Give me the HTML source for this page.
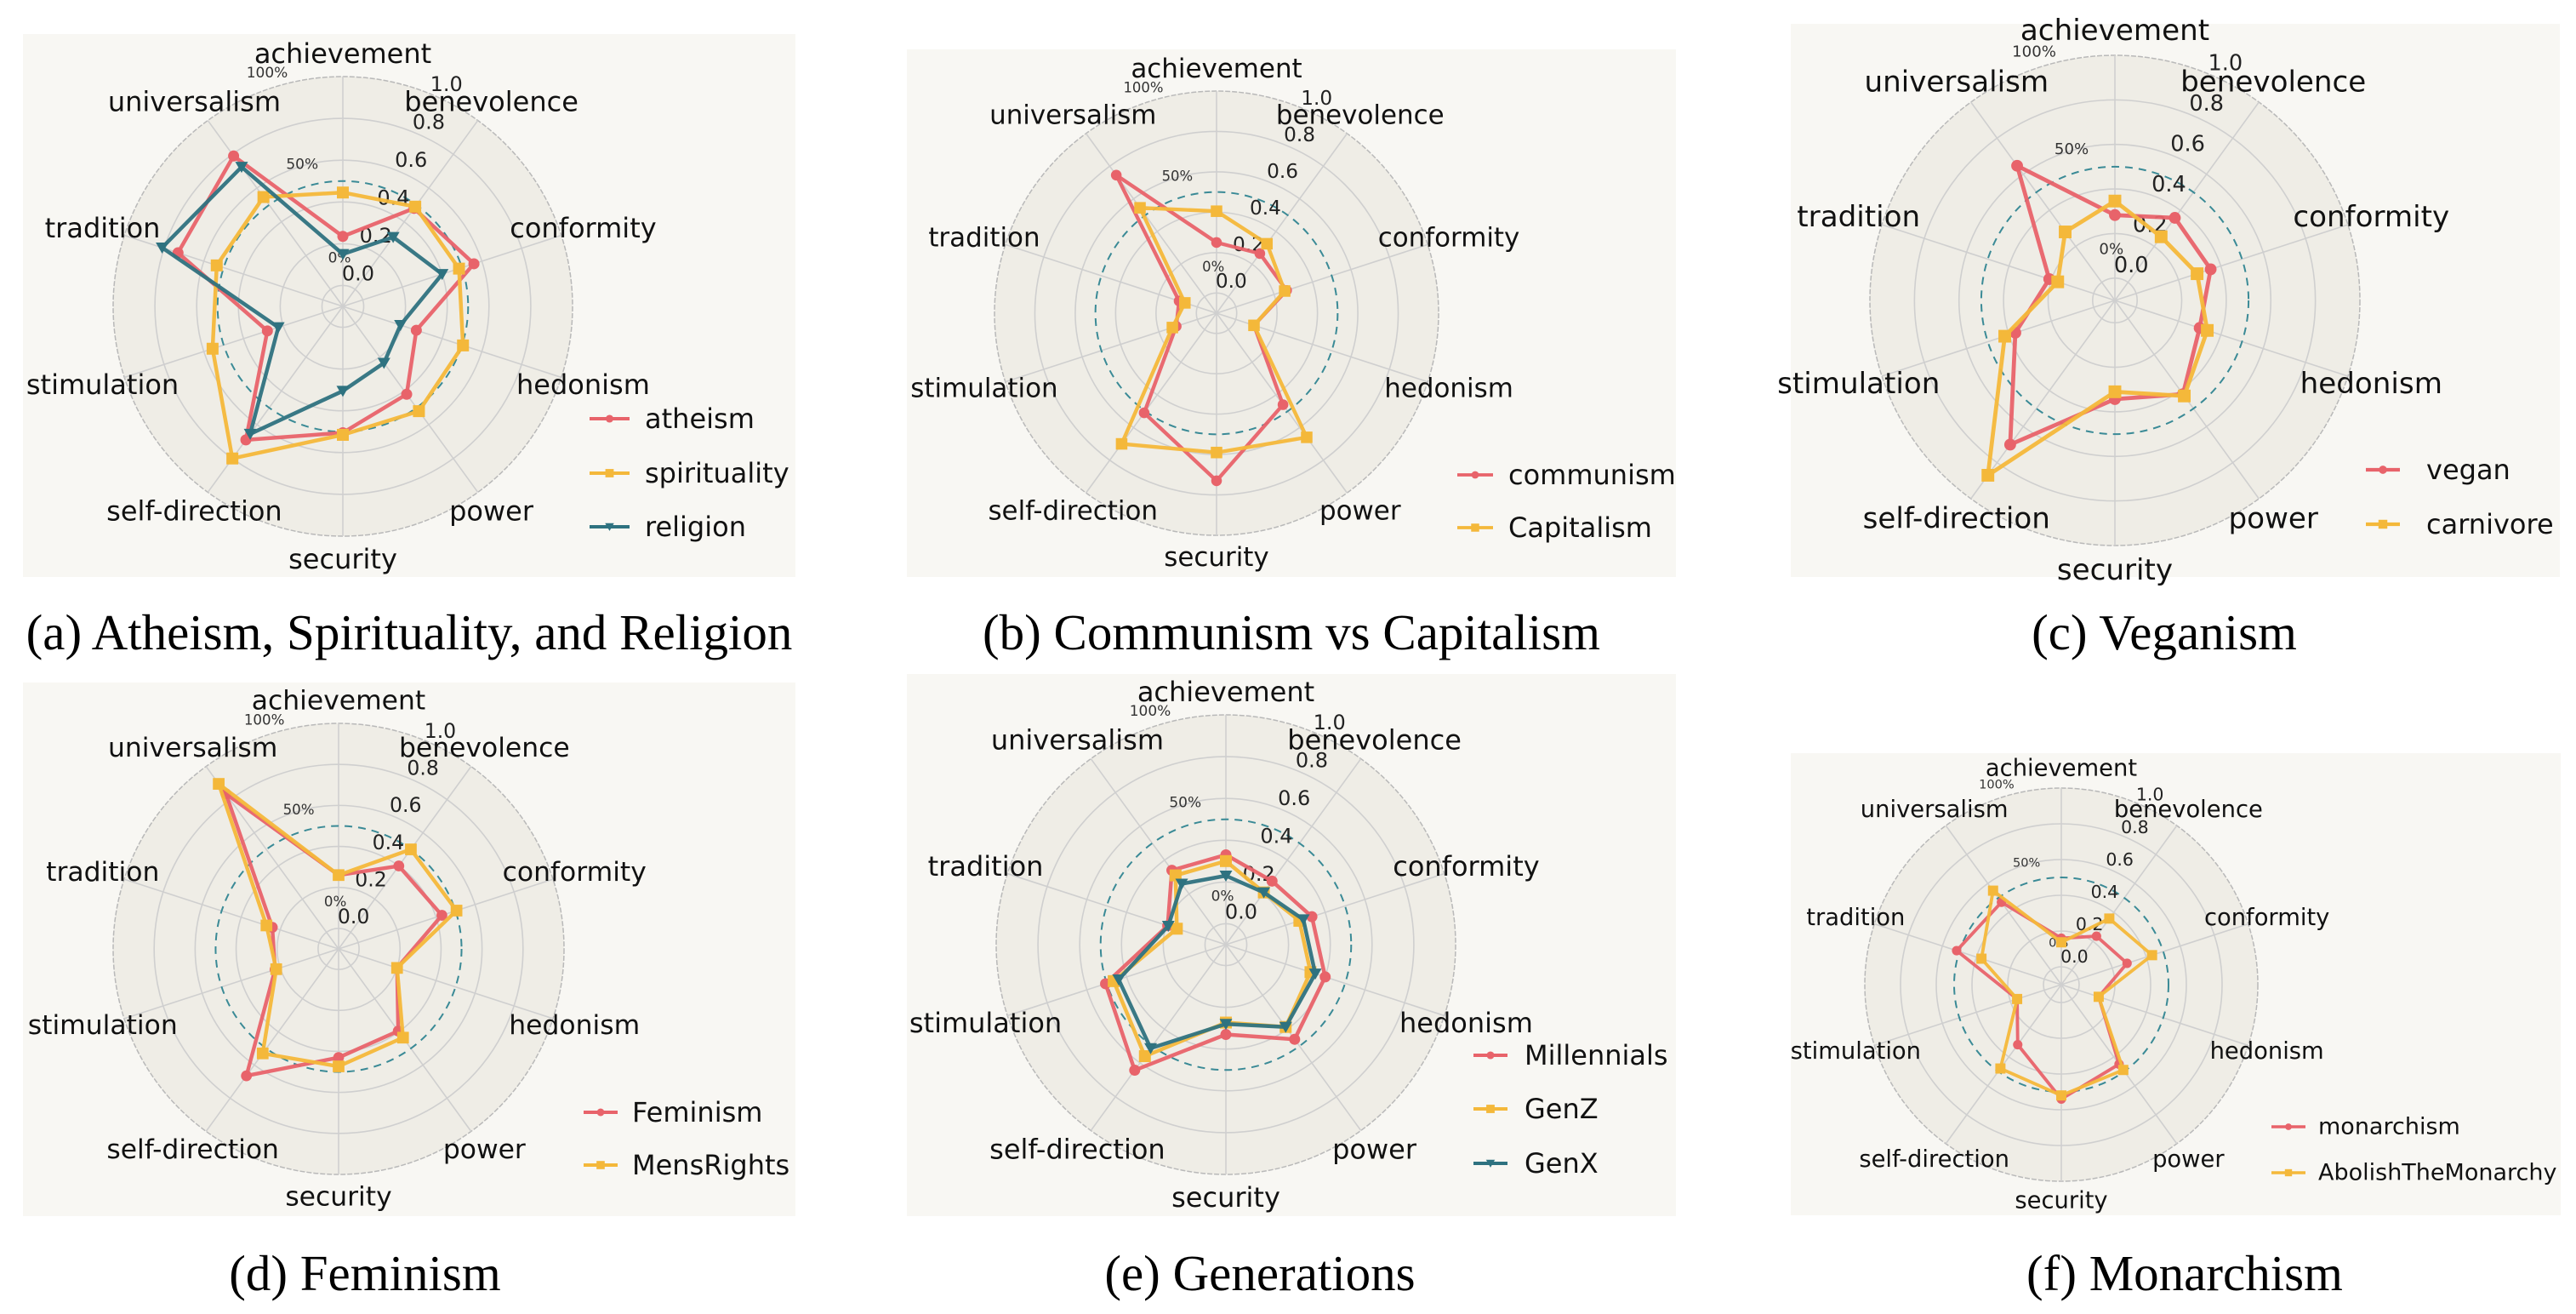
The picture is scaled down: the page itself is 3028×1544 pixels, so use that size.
<!DOCTYPE html>
<html>
<head>
<meta charset="utf-8">
<style>
  html,body{margin:0;padding:0;background:#ffffff;}
  body{width:3028px;height:1544px;overflow:hidden;position:relative;}
  svg{position:absolute;left:0;top:0;}
  .cap{font-family:"Liberation Serif",serif;font-size:59px;fill:#000;}
</style>
</head>
<body>
<svg id="fig" width="3028" height="1544" viewBox="0 0 3028 1544" xmlns="http://www.w3.org/2000/svg">
  <rect x="27" y="40" width="908" height="638" fill="#f8f7f3"/>
  <rect x="1066" y="58" width="904" height="620" fill="#f8f7f3"/>
  <rect x="2105" y="28" width="904" height="650" fill="#f8f7f3"/>
  <rect x="27" y="802" width="908" height="627" fill="#f8f7f3"/>
  <rect x="1066" y="792" width="904" height="637" fill="#f8f7f3"/>
  <rect x="2105" y="885" width="905" height="543" fill="#f8f7f3"/>
  <text class="cap" x="481" y="763" text-anchor="middle">(a) Atheism, Spirituality, and Religion</text>
  <text class="cap" x="1518" y="763" text-anchor="middle">(b) Communism vs Capitalism</text>
  <text class="cap" x="2544" y="763" text-anchor="middle">(c) Veganism</text>
  <text class="cap" x="429" y="1516" text-anchor="middle">(d) Feminism</text>
  <text class="cap" x="1481" y="1516" text-anchor="middle">(e) Generations</text>
  <text class="cap" x="2568" y="1516" text-anchor="middle">(f) Monarchism</text>
</svg>
<script>
const categories = ["achievement","benevolence","conformity","hedonism","power","security","self-direction","stimulation","tradition","universalism"];
const rTicks = [0, 0.2, 0.4, 0.6, 0.8, 1.0];
const rTickLabels = ["0.0","0.2","0.4","0.6","0.8","1.0"];
const pctTicks = [0, 0.5, 1.0];
const pctLabels = ["0%","50%","100%"];

const atheism      = [0.235,0.48,0.56,0.27,0.42,0.505,0.69,0.28,0.73,0.79];
const spirituality = [0.445,0.49,0.485,0.505,0.52,0.515,0.80,0.556,0.535,0.547];
const religion     = [0.15,0.31,0.40,0.19,0.235,0.305,0.655,0.225,0.81,0.725];

const communism  = [0.25,0.265,0.265,0.095,0.46,0.73,0.51,0.11,0.095,0.745];
const capitalism = [0.405,0.325,0.255,0.095,0.66,0.59,0.70,0.13,0.065,0.545];

const vegan     = [0.283,0.358,0.352,0.30,0.42,0.343,0.70,0.37,0.21,0.647];
const carnivore = [0.346,0.253,0.288,0.336,0.43,0.31,0.87,0.42,0.17,0.28];

const feminism   = [0.26,0.40,0.43,0.20,0.395,0.43,0.665,0.226,0.24,0.835];
const mensRights = [0.26,0.50,0.505,0.20,0.435,0.473,0.53,0.22,0.27,0.895];

const millennials = [0.33,0.276,0.333,0.40,0.46,0.33,0.643,0.506,0.193,0.34];
const genZ        = [0.30,0.209,0.27,0.326,0.387,0.273,0.56,0.465,0.147,0.31];
const genX        = [0.23,0.209,0.29,0.35,0.387,0.28,0.513,0.44,0.19,0.26];

const monarchism = [0.16,0.235,0.287,0.12,0.45,0.54,0.315,0.16,0.516,0.47];
const abolish    = [0.137,0.357,0.434,0.12,0.49,0.52,0.48,0.16,0.37,0.55];

const RED = "#e8636a", YEL = "#f4b83a", TEAL = "#2e7280";
const NS = "http://www.w3.org/2000/svg";
const svg = document.getElementById("fig");

function mk(tag, attrs, parent) {
  const e = document.createElementNS(NS, tag);
  for (const k in attrs) e.setAttribute(k, attrs[k]);
  (parent || svg).appendChild(e);
  return e;
}

function drawPanel(p) {
  const g = mk("g", {});
  
  
  const R = p.R, cx = p.cx, cy = p.cy;
  const s = R / 270;
  const rOf = v => R * (v + 0.1) / 1.1;
  const ang = i => (90 - 36 * i) * Math.PI / 180;
  const pt = (i, r) => [cx + r * Math.cos(ang(i)), cy - r * Math.sin(ang(i))];

  const disc = mk("circle", {cx: cx, cy: cy, r: R, fill: "#efede6", stroke: "#b9b9b9", "stroke-width": 1.5, "stroke-dasharray": "6 2"}, g);
  
  
  rTicks.forEach(t => {
    if (t >= 1.0) return;
    const c = mk("circle", {cx: cx, cy: cy, r: rOf(t), fill: "none", stroke: "#cfcfcf", "stroke-width": 1.6}, g);
    
    
  });
  categories.forEach((c, i) => {
    const [x, y] = pt(i, R);
    const l = mk("line", {x1: cx, y1: cy, x2: x, y2: y, stroke: "#cfcfcf", "stroke-width": 1.6}, g);
    
    
  });
  const dc = mk("circle", {cx: cx, cy: cy, r: rOf(0.5), fill: "none", stroke: "#3a8a96", "stroke-width": 2, "stroke-dasharray": "9 7"}, g);
  
  

  const fs = 32 * s;
  categories.forEach((c, i) => {
    const [x, y] = pt(i, R * 1.1);
    const t = mk("text", {x: x, y: y, "text-anchor": "middle", "dominant-baseline": "central", "font-family": "DejaVu Sans, Liberation Sans, sans-serif", "font-size": fs, fill: "#111"}, g);
    t.textContent = c;
    
    
  });
  const ta = 25 * Math.PI / 180;
  rTicks.forEach((t, k) => {
    const r = rOf(t) + 18 * s;
    const e = mk("text", {x: cx + r * Math.sin(ta), y: cy - r * Math.cos(ta), "text-anchor": "middle", "dominant-baseline": "central", "font-family": "DejaVu Sans, Liberation Sans, sans-serif", "font-size": 24 * s, fill: "#222"}, g);
    e.textContent = rTickLabels[k];
    
    
  });
  const pAng = [4, 16, 18];
  const pOff = [32, 26, 18];
  pctTicks.forEach((t, k) => {
    const r = rOf(t) + pOff[k] * s;
    const a = pAng[k] * Math.PI / 180;
    const e = mk("text", {x: cx - r * Math.sin(a), y: cy - r * Math.cos(a), "text-anchor": "middle", "dominant-baseline": "central", "font-family": "DejaVu Sans, Liberation Sans, sans-serif", "font-size": 17 * s, fill: "#333"}, g);
    e.textContent = pctLabels[k];
    
    
  });

  function marker(parent, kind, x, y, color, m) {
    let e;
    if (kind === "o") e = mk("circle", {cx: x, cy: y, r: 6.5 * m, fill: color}, parent);
    else if (kind === "s") e = mk("rect", {x: x - 7 * m, y: y - 7 * m, width: 14 * m, height: 14 * m, fill: color}, parent);
    else e = mk("polygon", {points: `${x - 7.5 * m},${y - 6 * m} ${x + 7.5 * m},${y - 6 * m} ${x},${y + 7 * m}`, fill: color}, parent);
    return e;
  }

  p.series.forEach(sr => {
    const sg = mk("g", {}, g);
    
    
    const pts = sr.values.map((v, i) => pt(i, rOf(v)));
    const poly = mk("polygon", {points: pts.map(q => q.join(",")).join(" "), fill: "none", stroke: sr.color, "stroke-width": 4.5 * s, "stroke-linejoin": "round", opacity: 0.95}, sg);
    
    
    pts.forEach((q, i) => {
      const m = marker(sg, sr.marker, q[0], q[1], sr.color, s);
      
      
    });
  });

  p.series.forEach((sr, k) => {
    const lg = mk("g", {}, g);
    
    
    const y = p.legY[k];
    mk("line", {x1: p.legX, y1: y, x2: p.legX + p.legW, y2: y, stroke: sr.color, "stroke-width": 4 * s}, lg);
    marker(lg, sr.marker, p.legX + p.legW / 2, y, sr.color, 0.7 * s);
    const t = mk("text", {x: p.legTX, y: y, "dominant-baseline": "central", "font-family": "DejaVu Sans, Liberation Sans, sans-serif", "font-size": p.legFs, fill: "#111"}, lg);
    t.textContent = sr.label;
  });
}

drawPanel({id: "a", cx: 403, cy: 360, R: 270, legX: 693, legW: 47, legTX: 758, legY: [492, 556, 619], legFs: 32,
  series: [{name: "atheism", label: "atheism", values: atheism, color: RED, marker: "o"},
           {name: "spirituality", label: "spirituality", values: spirituality, color: YEL, marker: "s"},
           {name: "religion", label: "religion", values: religion, color: TEAL, marker: "v"}]});
drawPanel({id: "b", cx: 1430, cy: 368, R: 261, legX: 1713, legW: 42, legTX: 1773, legY: [558, 620], legFs: 32,
  series: [{name: "communism", label: "communism", values: communism, color: RED, marker: "o"},
           {name: "capitalism", label: "Capitalism", values: capitalism, color: YEL, marker: "s"}]});
drawPanel({id: "c", cx: 2486, cy: 353, R: 288, legX: 2781, legW: 40, legTX: 2852, legY: [552, 616], legFs: 32,
  series: [{name: "vegan", label: "vegan", values: vegan, color: RED, marker: "o"},
           {name: "carnivore", label: "carnivore", values: carnivore, color: YEL, marker: "s"}]});
drawPanel({id: "d", cx: 398, cy: 1115, R: 265, legX: 686, legW: 40, legTX: 743, legY: [1307, 1369], legFs: 32,
  series: [{name: "feminism", label: "Feminism", values: feminism, color: RED, marker: "o"},
           {name: "mensrights", label: "MensRights", values: mensRights, color: YEL, marker: "s"}]});
drawPanel({id: "e", cx: 1441, cy: 1110, R: 270, legX: 1732, legW: 40, legTX: 1792, legY: [1240, 1303, 1367], legFs: 32,
  series: [{name: "millennials", label: "Millennials", values: millennials, color: RED, marker: "o"},
           {name: "genz", label: "GenZ", values: genZ, color: YEL, marker: "s"},
           {name: "genx", label: "GenX", values: genX, color: TEAL, marker: "v"}]});
drawPanel({id: "f", cx: 2423, cy: 1157, R: 231, legX: 2670, legW: 40, legTX: 2725, legY: [1324, 1378], legFs: 27,
  series: [{name: "monarchism", label: "monarchism", values: monarchism, color: RED, marker: "o"},
           {name: "abolishthemonarchy", label: "AbolishTheMonarchy", values: abolish, color: YEL, marker: "s"}]});
</script>
</body>
</html>
